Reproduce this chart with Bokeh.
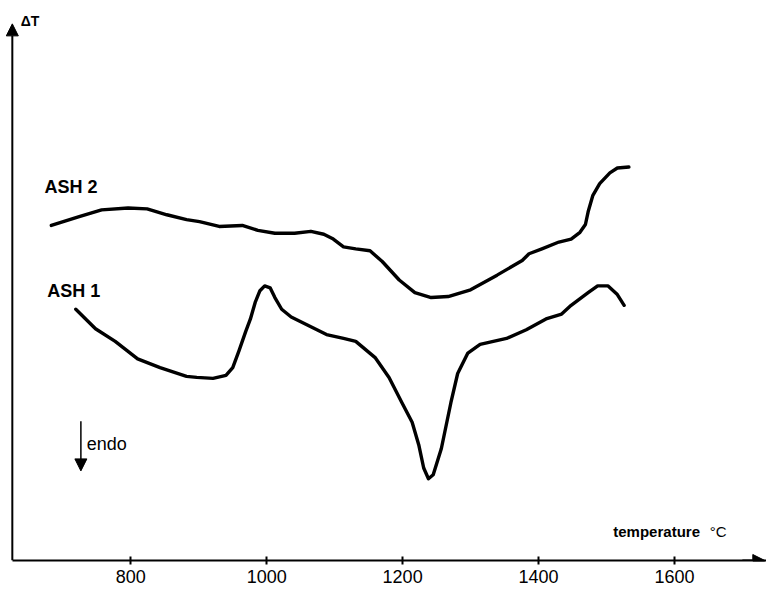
from bokeh.plotting import figure
from bokeh.models import Arrow, NormalHead, Label, FixedTicker, ColumnDataSource
from bokeh.embed import file_html
from bokeh.resources import INLINE

# ---- data (DeltaT in arbitrary units) ----
ash2_temp = [683, 724, 757, 796, 824, 853, 882, 901, 930, 964, 987, 1012, 1041, 1065,
             1084, 1098, 1113, 1131, 1152, 1170, 1195, 1218, 1242, 1267, 1300, 1339,
             1376, 1386, 1405, 1430, 1448, 1461, 1469, 1473, 1480, 1490, 1505, 1516, 1533]
ash2_dt = [344, 353, 360, 362, 361, 355, 350, 348, 343, 344, 339, 336, 336, 338,
           335, 330, 322, 320, 318, 307, 288, 275, 270, 271, 278, 293,
           308, 315, 320, 327, 330, 337, 345, 358, 375, 387, 398, 403, 404]

ash1_temp = [719, 748, 777, 810, 843, 882, 897, 921, 940, 950, 959, 969, 976, 983, 990,
             997, 1005, 1012, 1022, 1036, 1059, 1088, 1113, 1131, 1160, 1180, 1199, 1214,
             1224, 1231, 1238, 1245, 1257, 1271, 1281, 1296, 1314, 1353, 1382, 1411, 1434,
             1448, 1473, 1487, 1502, 1516, 1526]
ash1_dt = [258, 238, 225, 207, 198, 189, 188, 187, 190, 198, 215, 235, 248, 265, 277,
           282, 280, 270, 258, 250, 242, 232, 228, 225, 208, 188, 162, 142,
           118, 95, 84, 88, 115, 162, 192, 213, 222, 228, 237, 248, 253,
           262, 275, 282, 282, 273, 262]

tick_values = [800, 1000, 1200, 1400, 1600]

x_start, x_end = 608.2, 1735.5
y_start, y_end = 0, 575
y_axis_at = 625.6
y_arrow_top = 551

FONT = "Liberation Sans"

p = figure(width=766, height=587, x_range=(x_start, x_end), y_range=(y_start, y_end),
           output_backend="svg", toolbar_location=None, y_axis_location=None,
           min_border_left=0, min_border_right=0, min_border_top=0, min_border_bottom=27)
p.grid.visible = False
p.outline_line_color = None
p.background_fill_color = "white"
p.border_fill_color = "white"

ax = p.xaxis[0]
ax.ticker = FixedTicker(ticks=tick_values)
ax.bounds = (y_axis_at, x_end)
ax.axis_line_width = 2
ax.axis_line_color = "black"
ax.major_tick_line_width = 2
ax.major_tick_line_color = "black"
ax.major_tick_in = 4
ax.major_tick_out = 4
ax.minor_tick_line_color = None
ax.major_label_standoff = 5
ax.major_label_text_font = FONT
ax.major_label_text_font_size = "18px"
ax.major_label_text_color = "black"

s2 = ColumnDataSource(dict(t=ash2_temp, dt=ash2_dt))
s1 = ColumnDataSource(dict(t=ash1_temp, dt=ash1_dt))
p.line("t", "dt", source=s2, line_width=3.4, line_color="black", line_join="round", line_cap="round")
p.line("t", "dt", source=s1, line_width=3.4, line_color="black", line_join="round", line_cap="round")

# axis arrows
p.add_layout(Arrow(x_start=y_axis_at, y_start=0, x_end=y_axis_at, y_end=y_arrow_top,
                   line_width=2, line_color="black",
                   end=NormalHead(size=12, fill_color="black", line_color="black")))
p.add_layout(Arrow(x_start=1700, y_start=0, x_end=1733, y_end=0,
                   line_width=2, line_color="black",
                   end=NormalHead(size=12, fill_color="black", line_color="black")))
# endo arrow
p.add_layout(Arrow(x_start=726.5, y_start=143, x_end=726.5, y_end=92,
                   line_width=1.5, line_color="black",
                   end=NormalHead(size=12, fill_color="black", line_color="black")))

def lab(x, y, text, size, style="bold"):
    p.add_layout(Label(x=x, y=y, text=text, text_baseline="middle", text_align="left",
                       text_font=FONT, text_font_style=style, text_font_size=size,
                       text_color="black"))

lab(673, 384, "ASH 2", "18px")
lab(677, 277, "ASH 1", "18px")
lab(735, 120, "endo", "18px", "normal")
lab(1510, 30, "temperature", "15px")
lab(1652, 30, "°C", "15px", "normal")
lab(638, 554, "ΔT", "14px")

open("out.html", "w").write(file_html(p, INLINE))
